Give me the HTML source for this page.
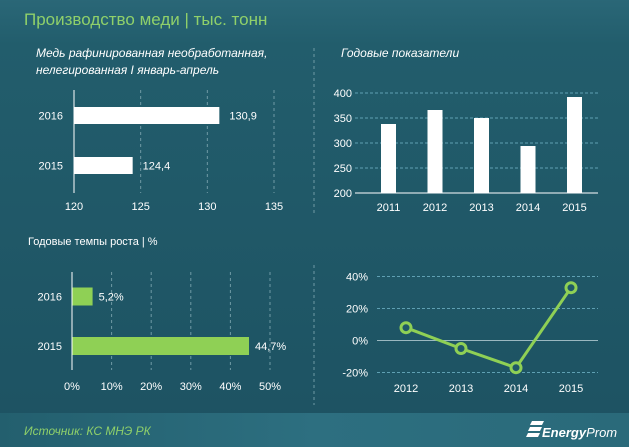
<!DOCTYPE html>
<html><head><meta charset="utf-8"><style>
html,body{margin:0;padding:0;background:#1e5565}
svg{display:block;font-family:"Liberation Sans","DejaVu Sans",sans-serif}
</style></head><body>
<svg width="629" height="447" viewBox="0 0 629 447">
<defs>
<linearGradient id="bg" x1="0" y1="0" x2="0" y2="1">
<stop offset="0" stop-color="#2a6777"/><stop offset="0.1" stop-color="#225d6c"/><stop offset="1" stop-color="#1d5262"/></linearGradient>
<linearGradient id="ft" x1="0" y1="0" x2="1" y2="0">
<stop offset="0" stop-color="#235f6e"/><stop offset="0.5" stop-color="#2d6f80"/><stop offset="1" stop-color="#2a6a7a"/></linearGradient>
</defs>
<rect width="629" height="447" fill="url(#bg)"/>
<rect y="413" width="629" height="34" fill="url(#ft)"/>
<text x="24" y="25" font-size="17" fill="#8fd06a">Производство меди  | тыс. тонн</text>
<text x="36" y="57" font-size="12" font-style="italic" fill="#fff">Медь рафинированная необработанная,</text>
<text x="36" y="74" font-size="12" font-style="italic" fill="#fff">нелегированная I январь-апрель</text>
<text x="341" y="57" font-size="12" font-style="italic" fill="#fff">Годовые показатели</text>
<text x="28" y="245" font-size="11" fill="#fff">Годовые темпы роста | %</text>
<line x1="314" y1="48" x2="314" y2="213" stroke="#6f9aa5" stroke-dasharray="3,3"/>
<line x1="314" y1="265" x2="314" y2="405" stroke="#6f9aa5" stroke-dasharray="3,3"/>
<text x="24" y="435" font-size="12" font-style="italic" fill="#8fd06a">Источник: КС МНЭ РК</text>
<g>
<path d="M532,421 h12 l-2,4 h-12 z M530,427 h12 l-2,4 h-12 z M528,433 h12 l-2,4 h-12 z" fill="#fff"/>
<text x="542" y="437" font-size="13" font-style="italic" font-weight="bold" fill="#fff">Energy<tspan font-weight="normal">Prom</tspan></text>
</g>
<g id="c1"></g><g id="c2"></g><g id="c3"></g><g id="c4"></g>
</svg>
<script>
const c1Cats=["2016","2015"];
const c1Vals=[130.9,124.4];
const c1Labels=["130,9","124,4"];
const c1Ticks=[120,125,130,135];
const c2Cats=["2011","2012","2013","2014","2015"];
const c2Vals=[338,366,350,294,392];
const c2Ticks=[200,250,300,350,400];
const c3Cats=["2016","2015"];
const c3Vals=[5.2,44.7];
const c3Labels=["5,2%","44,7%"];
const c3Ticks=[0,10,20,30,40,50];
const c4Cats=["2012","2013","2014","2015"];
const c4Vals=[8,-5,-17,33];
const c4Ticks=[-20,0,20,40];
const NS="http://www.w3.org/2000/svg";
function mk(p,t,a,txt){const e=document.createElementNS(NS,t);for(const k in a)e.setAttribute(k,a[k]);if(txt!=null)e.textContent=txt;p.appendChild(e);return e;}
// chart 1
(function(){const g=document.getElementById('c1');
const x=v=>74+(v-120)*(200/15);const rows=[115.5,165.5];
c1Ticks.forEach((t,i)=>{if(i>0){const l=mk(g,'line',{x1:x(t),x2:x(t),y1:90,y2:193,stroke:'#6f9aa5','stroke-dasharray':'3,3'});}
const tx=mk(g,'text',{x:x(t),y:210,'font-size':11,fill:'#fff','text-anchor':'middle'},String(t));});
c1Cats.forEach((c,i)=>{const r=mk(g,'rect',{x:x(120),y:rows[i]-8.5,width:x(c1Vals[i])-x(120),height:17,fill:'#fff'});
const a=mk(g,'text',{x:63,y:rows[i]+4,'font-size':11,fill:'#fff','text-anchor':'end'},c);
const b=mk(g,'text',{x:x(c1Vals[i])+10,y:rows[i]+4,'font-size':11,fill:'#fff'},c1Labels[i]);});
const ax=mk(g,'line',{x1:74,x2:74,y1:90,y2:193,stroke:'#fff','stroke-width':1});})();
// chart 2
(function(){const g=document.getElementById('c2');
const y=v=>193-(v-200)*(100/200);const xs=i=>388.5+i*46.5;
c2Ticks.forEach(t=>{if(t>200){const l=mk(g,'line',{x1:355,x2:598,y1:y(t),y2:y(t),stroke:'#5fa0b3','stroke-dasharray':'3,2'});}
const tx=mk(g,'text',{x:352,y:y(t)+4,'font-size':11,fill:'#fff','text-anchor':'end'},String(t));});
c2Cats.forEach((c,i)=>{const r=mk(g,'rect',{x:xs(i)-7.5,y:y(c2Vals[i]),width:15,height:y(200)-y(c2Vals[i]),fill:'#fff'});
const tx=mk(g,'text',{x:xs(i),y:211,'font-size':11,fill:'#fff','text-anchor':'middle'},c);});
const ax=mk(g,'line',{x1:355,x2:598,y1:193,y2:193,stroke:'#fff'});})();
// chart 3
(function(){const g=document.getElementById('c3');
const x=v=>72+v*(198/50);const rows=[296.5,346];
c3Ticks.forEach((t,i)=>{if(i>0){const l=mk(g,'line',{x1:x(t),x2:x(t),y1:272,y2:370,stroke:'#6f9aa5','stroke-dasharray':'3,3'});}
const tx=mk(g,'text',{x:x(t),y:390,'font-size':11,fill:'#fff','text-anchor':'middle'},t+'%');});
c3Cats.forEach((c,i)=>{const r=mk(g,'rect',{x:x(0),y:rows[i]-9,width:x(c3Vals[i])-x(0),height:18,fill:'#8fd055'});
const a=mk(g,'text',{x:62,y:rows[i]+4,'font-size':11,fill:'#fff','text-anchor':'end'},c);
const b=mk(g,'text',{x:x(c3Vals[i])+6,y:rows[i]+4,'font-size':11,fill:'#fff'},c3Labels[i]);});
const ax=mk(g,'line',{x1:72,x2:72,y1:272,y2:370,stroke:'#fff'});})();
// chart 4
(function(){const g=document.getElementById('c4');
const y=v=>340.5-v*(32/20);const xs=i=>406+i*55;
c4Ticks.forEach(t=>{const l=mk(g,'line',{x1:377,x2:598,y1:y(t),y2:y(t),stroke:t===0?'#9ab8c0':'#5fa0b3','stroke-dasharray':t===0?'none':'3,2'});
const tx=mk(g,'text',{x:368,y:y(t)+4,'font-size':11,fill:'#fff','text-anchor':'end'},t+'%');});
const pts=c4Vals.map((v,i)=>xs(i)+','+y(v)).join(' ');
const pl=mk(g,'polyline',{points:pts,fill:'none',stroke:'#8fd055','stroke-width':3});
c4Cats.forEach((c,i)=>{const p=mk(g,'circle',{cx:xs(i),cy:y(c4Vals[i]),r:5,fill:'#1f5868',stroke:'#8fd055','stroke-width':3});
const tx=mk(g,'text',{x:xs(i),y:392,'font-size':11,fill:'#fff','text-anchor':'middle'},c);});})();
</script>
</body></html>
